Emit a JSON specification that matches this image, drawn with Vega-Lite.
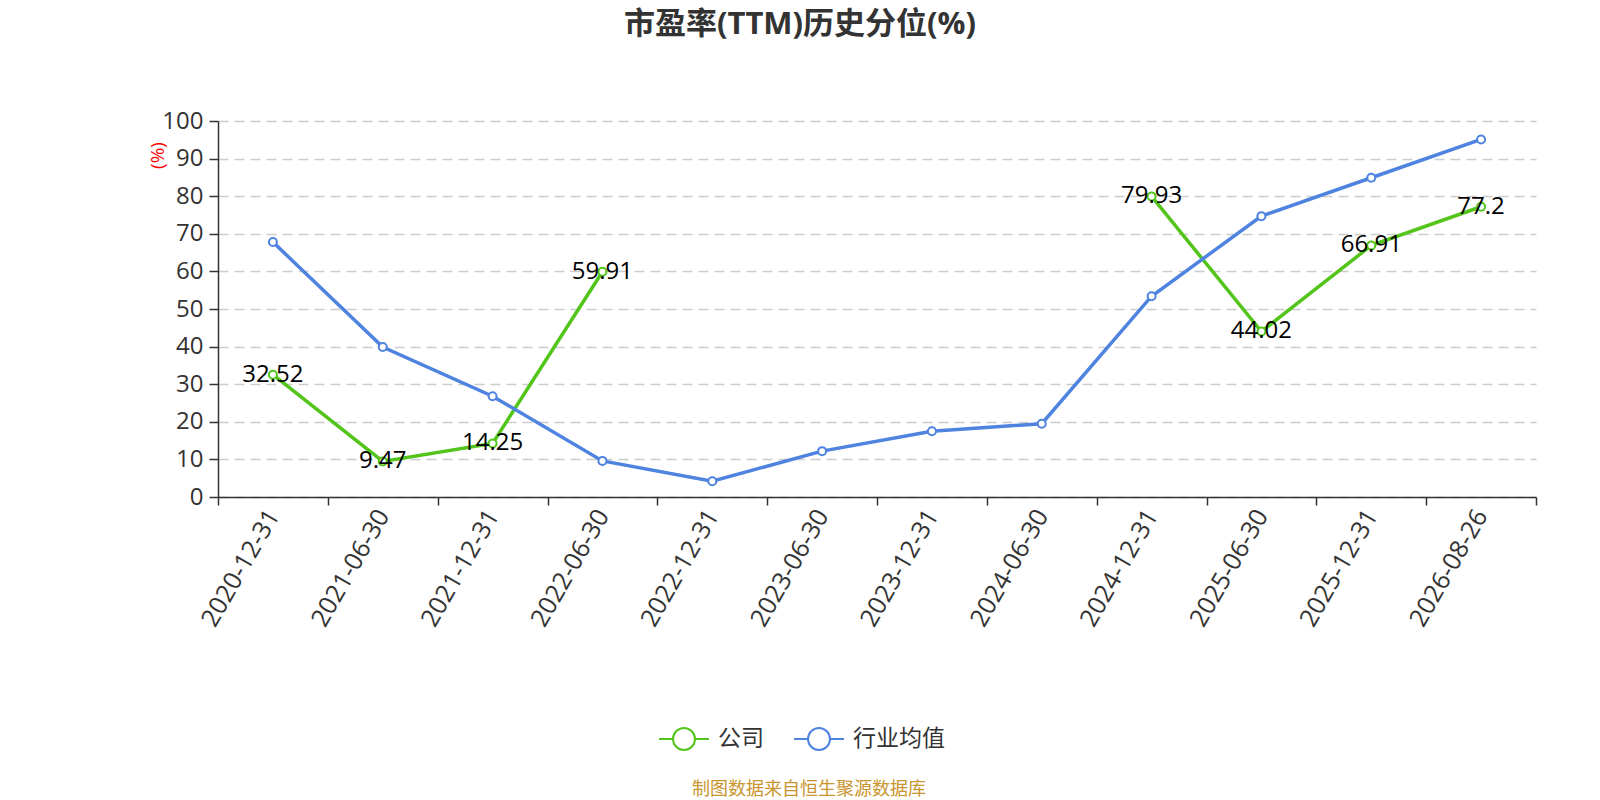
{
  "$schema": "https://vega.github.io/schema/vega-lite/v6.json",
  "autosize": {"type": "none"},
  "width": 1318,
  "height": 376,
  "padding": {"left": 218, "top": 121, "right": 64, "bottom": 303},
  "background": "white",
  "config": {"view": {"stroke": null}},
  "title": {
    "text": "市盈率(TTM)历史分位(%)",
    "anchor": "middle",
    "dx": -77,
    "offset": 68,
    "font": "Open Sans, Noto Sans CJK SC",
    "fontSize": 31,
    "fontWeight": "bold",
    "color": "#333333"
  },
  "data": {
    "values": [
      {"date": "2020-12-31", "series": "公司", "value": 32.52},
      {"date": "2021-06-30", "series": "公司", "value": 9.47},
      {"date": "2021-12-31", "series": "公司", "value": 14.25},
      {"date": "2022-06-30", "series": "公司", "value": 59.91},
      {"date": "2022-12-31", "series": "公司", "value": null},
      {"date": "2023-06-30", "series": "公司", "value": null},
      {"date": "2023-12-31", "series": "公司", "value": null},
      {"date": "2024-06-30", "series": "公司", "value": null},
      {"date": "2024-12-31", "series": "公司", "value": 79.93},
      {"date": "2025-06-30", "series": "公司", "value": 44.02},
      {"date": "2025-12-31", "series": "公司", "value": 66.91},
      {"date": "2026-08-26", "series": "公司", "value": 77.2},
      {"date": "2020-12-31", "series": "行业均值", "value": 67.8},
      {"date": "2021-06-30", "series": "行业均值", "value": 39.9},
      {"date": "2021-12-31", "series": "行业均值", "value": 26.8},
      {"date": "2022-06-30", "series": "行业均值", "value": 9.6},
      {"date": "2022-12-31", "series": "行业均值", "value": 4.2},
      {"date": "2023-06-30", "series": "行业均值", "value": 12.2},
      {"date": "2023-12-31", "series": "行业均值", "value": 17.5},
      {"date": "2024-06-30", "series": "行业均值", "value": 19.5},
      {"date": "2024-12-31", "series": "行业均值", "value": 53.4},
      {"date": "2025-06-30", "series": "行业均值", "value": 74.7},
      {"date": "2025-12-31", "series": "行业均值", "value": 84.9},
      {"date": "2026-08-26", "series": "行业均值", "value": 95.1}
    ]
  },
  "encoding": {
    "x": {
      "field": "date",
      "type": "nominal",
      "sort": null,
      "bandPosition": 0.5,
      "scale": {"type": "band", "paddingInner": 0, "paddingOuter": 0},
      "axis": {
        "title": null,
        "labelAngle": -60,
        "labelFontSize": 25,
        "labelFont": "Open Sans, Noto Sans CJK SC",
        "labelColor": "#333333",
        "labelPadding": 6,
        "tickBand": "extent",
        "tickSize": 8,
        "tickColor": "#333333",
        "tickWidth": 1.5,
        "domainColor": "#333333",
        "domainWidth": 1.5,
        "grid": false
      }
    },
    "y": {
      "field": "value",
      "type": "quantitative",
      "scale": {"domain": [0, 100], "nice": false},
      "axis": {
        "title": "(%)",
        "titleColor": "red",
        "titleFontSize": 19,
        "titleFont": "Open Sans, Noto Sans CJK SC",
        "titleFontWeight": "normal",
        "titleAngle": -90,
        "titleX": -61,
        "titleY": 34,
        "titleAlign": "center",
        "titleBaseline": "middle",
        "values": [0, 10, 20, 30, 40, 50, 60, 70, 80, 90, 100],
        "labelFontSize": 24,
        "labelFont": "Open Sans, Noto Sans CJK SC",
        "labelColor": "#333333",
        "labelPadding": 6,
        "tickSize": 9,
        "tickColor": "#333333",
        "tickWidth": 1.5,
        "domainColor": "#333333",
        "domainWidth": 1.5,
        "grid": true,
        "gridColor": "#cccccc",
        "gridDash": [10, 6],
        "gridWidth": 1.5
      }
    },
    "color": {
      "field": "series",
      "type": "nominal",
      "sort": null,
      "scale": {"domain": ["公司", "行业均值"], "range": ["#52c41a", "#4e83e0"]},
      "legend": {
        "title": "制图数据来自恒生聚源数据库",
        "titleOrient": "bottom",
        "titleAnchor": "middle",
        "titleColor": "#c8952e",
        "titleFontSize": 18,
        "titleFontWeight": "normal",
        "titleFont": "Open Sans, Noto Sans CJK SC",
        "titlePadding": 27,
        "titleLimit": 600,
        "orient": "none",
        "legendX": 454,
        "legendY": 606,
        "direction": "horizontal",
        "padding": 0,
        "symbolType": "M-2.27,0L-1,0M1,0L2.27,0M-1,0A1,1,0,1,1,1,0A1,1,0,1,1,-1,0Z",
        "symbolSize": 484,
        "symbolStrokeWidth": 2,
        "symbolFillColor": "#ffffff",
        "labelFontSize": 23,
        "labelFont": "Open Sans, Noto Sans CJK SC",
        "labelColor": "#333333",
        "labelOffset": 22,
        "columnPadding": 26
      }
    }
  },
  "layer": [
    {
      "mark": {"type": "line", "strokeWidth": 3.5, "invalid": "break-paths-filter-domains"}
    },
    {
      "transform": [{"filter": "datum.value != null"}],
      "mark": {"type": "point", "shape": "circle", "filled": false, "fill": "#ffffff", "fillOpacity": 1, "size": 64, "strokeWidth": 2, "opacity": 1}
    },
    {
      "transform": [{"filter": "datum.value != null && datum.series == '公司'"}],
      "mark": {"type": "text", "align": "center", "baseline": "middle", "fontSize": 24, "font": "Open Sans, Noto Sans CJK SC", "color": "#000000"},
      "encoding": {
        "text": {"field": "value", "type": "quantitative"},
        "color": {"value": "#000000"}
      }
    }
  ]
}
